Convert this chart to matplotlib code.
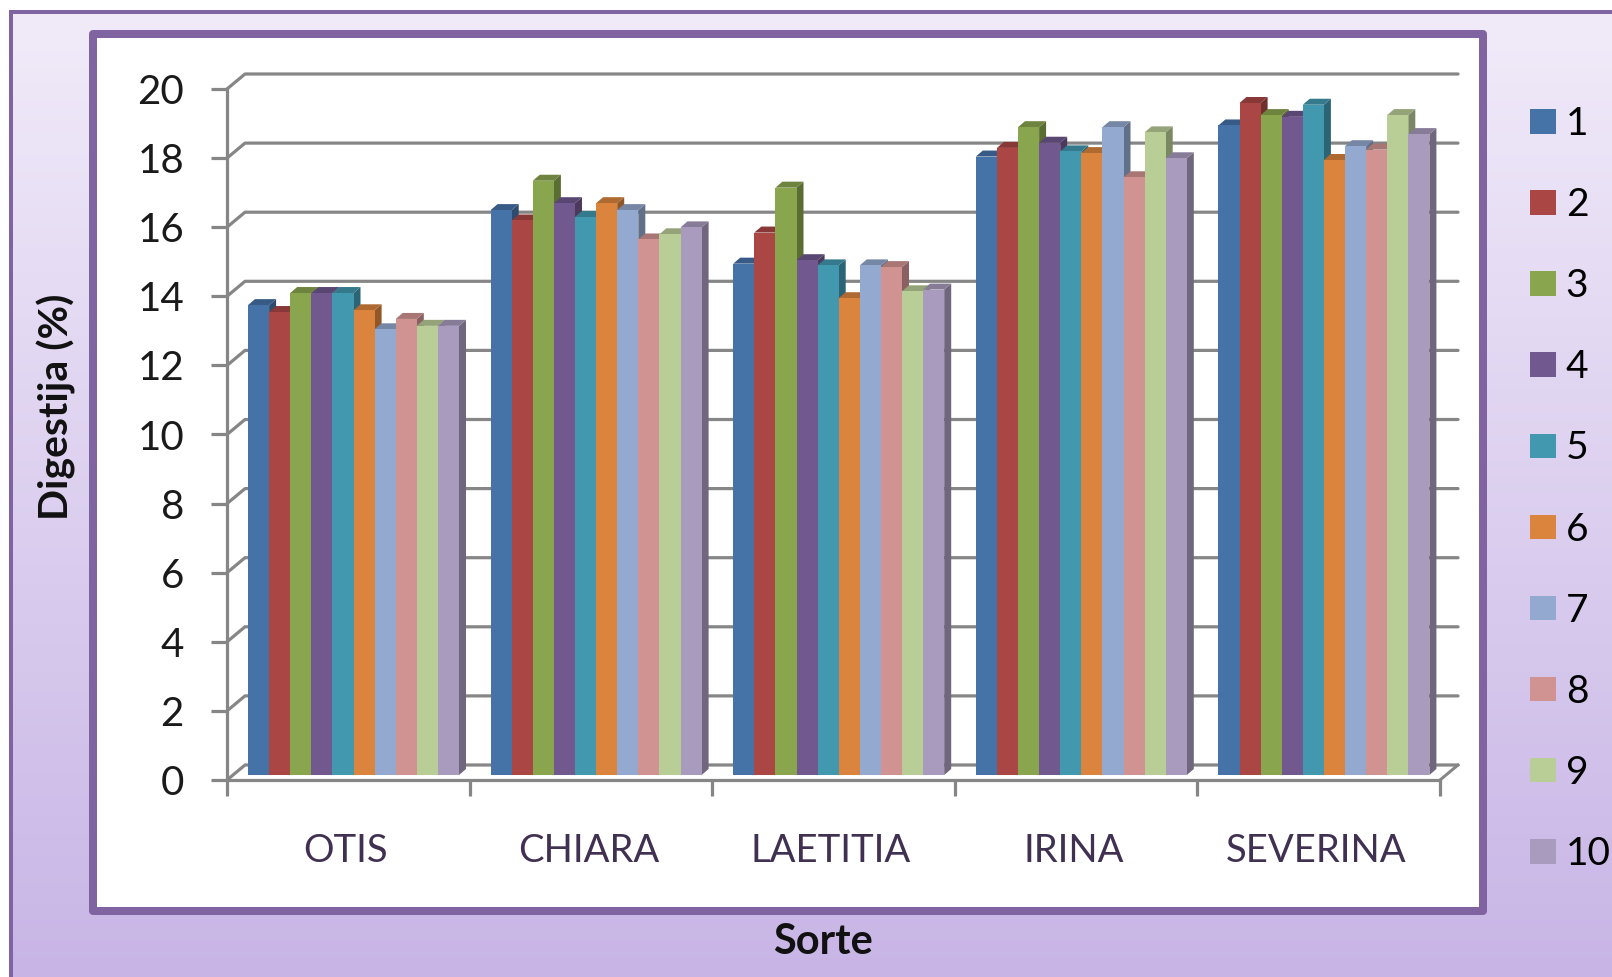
import numpy as np
import matplotlib
matplotlib.use('Agg')
import matplotlib.pyplot as plt
from matplotlib.patches import Polygon, Rectangle, Patch
from matplotlib.colors import LinearSegmentedColormap, to_rgb

plt.rcParams['font.family'] = ['Lato', 'DejaVu Sans']

categories = ['OTIS', 'CHIARA', 'LAETITIA', 'IRINA', 'SEVERINA']
series_names = ['1', '2', '3', '4', '5', '6', '7', '8', '9', '10']
otis = [13.6, 13.4, 13.95, 13.95, 13.95, 13.45, 12.9, 13.2, 13.0, 13.0]
chiara = [16.35, 16.05, 17.2, 16.55, 16.15, 16.55, 16.35, 15.5, 15.65, 15.85]
laetitia = [14.8, 15.7, 17.0, 14.9, 14.75, 13.8, 14.75, 14.7, 14.0, 14.05]
irina = [17.9, 18.15, 18.75, 18.3, 18.05, 18.0, 18.75, 17.3, 18.6, 17.85]
severina = [18.8, 19.45, 19.1, 19.05, 19.4, 17.8, 18.2, 18.1, 19.1, 18.55]
values = [otis, chiara, laetitia, irina, severina]
colors = ['#4572A7', '#AA4643', '#89A54E', '#71588F', '#4198AF',
          '#DB843D', '#93A9CF', '#D19392', '#B9CD96', '#A99BBD']

W, H = 1612, 977
PURPLE = '#8064A2'
GRID = '#868686'
px = 0.72  # points per pixel at dpi 100

fig = plt.figure(figsize=(W / 100, H / 100), dpi=100, facecolor='white')

# background, in pixel coords
bg = fig.add_axes([0, 0, 1, 1])
bg.set_xlim(0, W)
bg.set_ylim(H, 0)
bg.axis('off')
cmap = LinearSegmentedColormap.from_list('bg', ['#F1EBF9', '#C8B5E6'])
grad = np.linspace(0, 1, 256).reshape(-1, 1)
bg.imshow(grad, cmap=cmap, aspect='auto', extent=(11, W, H, 12))
bg.set_xlim(0, W)
bg.set_ylim(H, 0)
bg.plot([11, 11, W], [H, 12, 12], color=PURPLE, lw=4 * px, solid_joinstyle='miter')
bg.add_patch(Rectangle((93, 34), 1390, 877, facecolor='white', edgecolor=PURPLE,
                       lw=8 * px, joinstyle='round'))

# chart axes: front plane of the 3d box
ax = fig.add_axes([227 / W, (H - 780) / H, 1213 / W, 691 / H])
ax.patch.set_alpha(0)
ax.set_xlim(0, 5)
ax.set_ylim(0, 20)
px_x = 5 / 1213
px_y = 20 / 691

# back wall gridlines
wall_x = 18 * px_x
wall_y = 15 * px_y
yticks = np.arange(0, 21, 2)
for v in yticks:
    ax.plot([0, wall_x, 5 + wall_x], [v, v + wall_y, v + wall_y], color=GRID,
            lw=3.2 * px, clip_on=False, zorder=1, solid_capstyle='round')
ax.plot([5, 5 + wall_x], [0, wall_y], color=GRID, lw=3 * px, clip_on=False, zorder=1)


def shade(c, f):
    return tuple(np.array(to_rgb(c)) * f)


# bars
bar_w = 21.1 * px_x
offset = 21 * px_x
base = 5 * px_y
side_x = 7 * px_x
side_y = 6 * px_y
for i, group in enumerate(values):
    for j, v in enumerate(group):
        x0 = i + offset + j * bar_w
        x1 = x0 + bar_w
        top = v + base
        ax.add_patch(Polygon([(x1, base), (x1 + side_x, base + side_y),
                              (x1 + side_x, top + side_y), (x1, top)],
                             facecolor=shade(colors[j], 0.66), lw=0, zorder=3, clip_on=False))
        ax.add_patch(Polygon([(x0, top), (x0 + side_x, top + side_y),
                              (x1 + side_x, top + side_y), (x1, top)],
                             facecolor=shade(colors[j], 0.8), lw=0, zorder=3, clip_on=False))
        ax.add_patch(Rectangle((x0, base), bar_w, v, facecolor=colors[j], lw=0,
                               zorder=3, clip_on=False))

# axes
for s in ['top', 'right']:
    ax.spines[s].set_visible(False)
for s in ['left', 'bottom']:
    ax.spines[s].set_color(GRID)
    ax.spines[s].set_linewidth(3.2 * px)
    ax.spines[s].set_zorder(4)
ax.set_yticks(yticks)
ax.set_xticks(np.arange(0, 6))
ax.set_xticklabels([])
ax.set_xticks(np.arange(5) + 0.5 - 2.5 * px_x, labels=categories, minor=True)
ax.tick_params(axis='both', which='major', length=16 * px, width=3.2 * px, color=GRID)
ax.tick_params(axis='y', labelsize=29, pad=27 * px, labelcolor='#1a1a1a')
ax.tick_params(axis='x', which='minor', length=0, pad=53 * px, labelsize=27.5, labelcolor='#403152')

ax.set_ylabel('Digestija (%)', fontsize=29.5, fontweight='bold', color='#111111',
              va='center')
ax.yaxis.set_label_coords((56 - 227) / 1213, (780 - 407) / 691)
ax.set_xlabel('Sorte', fontsize=30, fontweight='bold', color='#111111')
ax.xaxis.set_label_coords((823 - 227) / 1213, -(942 - 780) / 691)
ax.xaxis.label.set_verticalalignment('center')

# legend
handles = [Patch(facecolor=c, edgecolor='none', label=n) for c, n in zip(colors, series_names)]
fig.legend(handles=handles, loc='upper left', bbox_to_anchor=(1530 / W, 1 - 106 / H),
           frameon=False, fontsize=28, borderpad=0, borderaxespad=0,
           handlelength=0.67, handleheight=0.59, handletextpad=0.25, labelspacing=1.16)

fig.savefig('out.png', dpi=100)
